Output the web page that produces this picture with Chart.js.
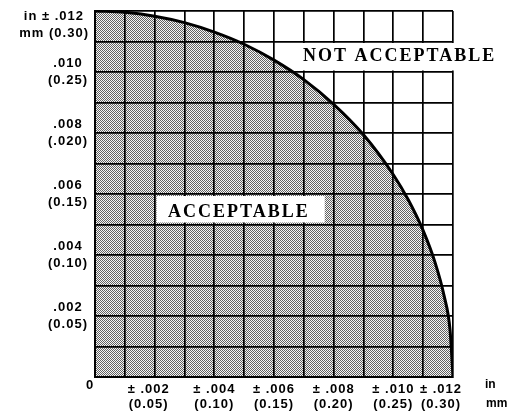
<!DOCTYPE html>
<html>
<head>
<meta charset="utf-8">
<script src="https://cdn.jsdelivr.net/npm/chart.js@4"></script>
<style>
  html, body { margin: 0; padding: 0; background: #fff; }
  #wrap { width: 508px; height: 412px; }
</style>
</head>
<body>
<div id="wrap"><canvas id="c" width="508" height="412"></canvas></div>
<script>
// Tolerance boundary: lateral offset (in) vs. height offset (in)
const boundaryX = [0, 0.001, 0.002, 0.003, 0.004, 0.005, 0.006, 0.007, 0.008, 0.009, 0.010, 0.0105, 0.011, 0.0114, 0.0117, 0.0119, 0.012];
const boundaryY = [0.0120, 0.01196, 0.01183, 0.01162, 0.01131, 0.01091, 0.01039, 0.00975, 0.00894, 0.00794, 0.00663, 0.00581, 0.00480, 0.00375, 0.00267, 0.00155, 0];

// Axis tick labels (inches with millimetres underneath)
const yTickValues = [0.010, 0.008, 0.006, 0.004, 0.002];
const yTickInches = ['.010', '.008', '.006', '.004', '.002'];
const yTickMm = ['(0.25)', '(.020)', '(0.15)', '(0.10)', '(0.05)'];
const xTickValues = [0.002, 0.004, 0.006, 0.008, 0.010, 0.012];
const xTickInches = ['\u00b1 .002', '\u00b1 .004', '\u00b1 .006', '\u00b1 .008', '\u00b1 .010', '\u00b1 .012'];
const xTickMm = ['(0.05)', '(0.10)', '(0.15)', '(0.20)', '(0.25)', '(0.30)'];

// Halftone stipple used for the acceptable zone
function stipple() {
  const p = document.createElement('canvas');
  p.width = 2; p.height = 2;
  const g = p.getContext('2d');
  g.fillStyle = '#f6f6f6'; g.fillRect(0, 0, 2, 2);
  g.fillStyle = '#626262';
  g.fillRect(0, 0, 1, 1);
  g.fillRect(1, 1, 1, 1);
  return g.createPattern(p, 'repeat');
}

const points = boundaryX.map((x, i) => ({ x: x, y: boundaryY[i] }));

const SANS = 'bold 13px "Liberation Sans", Arial, sans-serif';
const SERIF = 'bold 18px "Liberation Serif", "Times New Roman", serif';

const labels = {
  id: 'labels',
  afterDraw(chart) {
    const ctx = chart.ctx;
    const xs = chart.scales.x, ys = chart.scales.y;
    const px = v => xs.getPixelForValue(v);
    const py = v => ys.getPixelForValue(v);
    ctx.save();
    ctx.fillStyle = '#000';
    ctx.textBaseline = 'middle';
    ctx.font = SANS;
    ctx.letterSpacing = '1px';

    // y axis
    ctx.textAlign = 'right';
    ctx.fillText('in \u00b1 .012', 84, 16);
    ctx.fillText('mm (0.30)', 89, 33);
    ctx.textAlign = 'center';
    yTickValues.forEach((v, i) => {
      const y = py(v);
      ctx.fillText(yTickInches[i], 68, y - 8.5);
      ctx.fillText(yTickMm[i], 68, y + 8.5);
    });

    // x axis
    ctx.fillText('0', 90, 385);
    xTickValues.forEach((v, i) => {
      let x = px(v);
      if (i === 0) x -= 6;
      if (i === xTickValues.length - 1) x -= 12;
      ctx.fillText(xTickInches[i], x, 389);
      ctx.fillText(xTickMm[i], x, 404);
    });
    ctx.letterSpacing = '0px';
    ctx.font = 'bold 12px "Liberation Sans", Arial, sans-serif';
    ctx.textAlign = 'left';
    ctx.fillText('in', 485, 385);
    ctx.fillText('mm', 486, 404);

    // zone captions on white panels
    ctx.font = SERIF;
    ctx.letterSpacing = '2px';
    ctx.fillStyle = '#fff';
    const nTop = py(0.011) + 1.5, nBot = py(0.010) - 1.5;
    ctx.fillRect(px(0.0069), nTop, 508 - px(0.0069), nBot - nTop);
    const aTop = py(0.006) + 2, aBot = py(0.005) - 2;
    const aL = px(0.002) + 2, aR = px(0.0077);
    ctx.fillRect(aL, aTop, aR - aL, aBot - aTop);
    ctx.fillStyle = '#000';
    ctx.textAlign = 'left';
    ctx.textBaseline = 'alphabetic';
    ctx.fillText('NOT ACCEPTABLE', 303, 61);
    ctx.fillText('ACCEPTABLE', 168, 217);
    ctx.restore();
  }
};

const gridOpts = {
  color: '#000',
  lineWidth: 1.7,
  drawTicks: false,
  z: 1
};

new Chart(document.getElementById('c'), {
  type: 'scatter',
  data: {
    datasets: [{
      data: points,
      showLine: true,
      borderColor: '#000',
      borderWidth: 3,
      pointRadius: 0,
      cubicInterpolationMode: 'monotone',
      fill: 'origin',
      backgroundColor: stipple()
    }]
  },
  options: {
    responsive: false,
    animation: false,
    events: [],
    layout: { padding: { left: 95, right: 55, top: 11, bottom: 35 } },
    plugins: { legend: { display: false }, tooltip: { enabled: false } },
    scales: {
      x: {
        type: 'linear', min: 0, max: 0.012,
        ticks: { display: false, stepSize: 0.001 },
        grid: gridOpts,
        border: { display: true, color: '#000', width: 2, z: 1 },
        afterFit: s => { s.height = 0; }
      },
      y: {
        type: 'linear', min: 0, max: 0.012,
        ticks: { display: false, stepSize: 0.001 },
        grid: gridOpts,
        border: { display: true, color: '#000', width: 2, z: 1 },
        afterFit: s => { s.width = 0; }
      }
    }
  },
  plugins: [labels]
});
</script>
</body>
</html>
